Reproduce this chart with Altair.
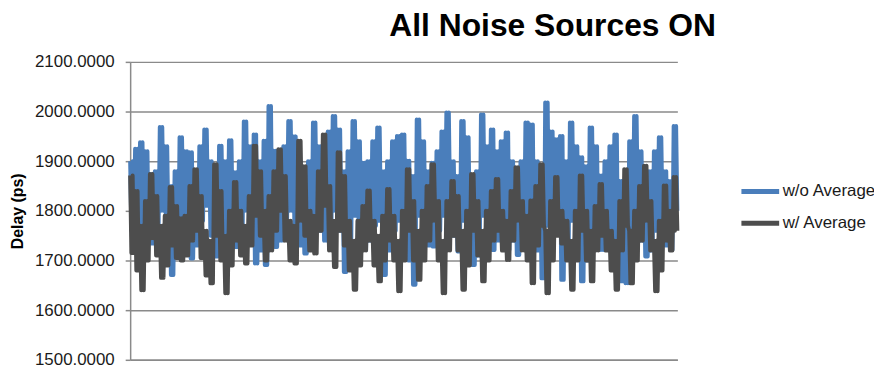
import altair as alt
import pandas as pd

TITLE = "All Noise Sources ON"
Y_TITLE = "Delay (ps)"
SERIES = ["w/o Average", "w/ Average"]
Y_TICKS = [1500, 1600, 1700, 1800, 1900, 2000, 2100]

# Each column of the trace (left to right, ~5 px wide) gives the upper and the
# lower edge of the fast oscillation; the trace swings between them twice per column
blue_hi = [1900, 1925, 1938, 1920, 1874, 1880, 1969, 1930, 1850, 1880,
           1948, 1920, 1918, 1880, 1930, 1964, 1900, 1874, 1931, 1900,
           1942, 1878, 1900, 1980, 1930, 1954, 1900, 1941, 2011, 1921,
           1900, 1930, 1981, 1950, 1900, 1840, 1900, 1978, 1930, 1908,
           1960, 1991, 1964, 1880, 1920, 1981, 1940, 1897, 1900, 1940,
           1968, 1880, 1900, 1940, 1951, 1954, 1901, 1870, 1984, 1940,
           1880, 1897, 1920, 1960, 1998, 1900, 1870, 1981, 1948, 1850,
           1880, 1994, 1930, 1964, 1920, 1940, 1958, 1900, 1868, 1900,
           1978, 1974, 1900, 1854, 2018, 1960, 1944, 1951, 1900, 1978,
           1930, 1908, 1890, 1968, 1930, 1871, 1900, 1930, 1954, 1860,
           1850, 1940, 1991, 1920, 1860, 1880, 1920, 1948, 1880, 1860,
           1971]
blue_lo = [1760, 1770, 1750, 1740, 1734, 1760, 1800, 1760, 1671, 1720,
           1790, 1760, 1704, 1730, 1780, 1810, 1750, 1708, 1770, 1750,
           1780, 1727, 1740, 1800, 1760, 1694, 1720, 1691, 1760, 1727,
           1740, 1770, 1800, 1760, 1730, 1714, 1740, 1790, 1760, 1740,
           1780, 1800, 1760, 1677, 1740, 1790, 1760, 1721, 1740, 1770,
           1780, 1671, 1720, 1760, 1780, 1760, 1700, 1651, 1790, 1750,
           1730, 1728, 1760, 1790, 1810, 1750, 1718, 1780, 1740, 1691,
           1710, 1790, 1760, 1721, 1740, 1760, 1721, 1740, 1711, 1740,
           1790, 1714, 1720, 1664, 1770, 1790, 1760, 1661, 1720, 1780,
           1740, 1658, 1700, 1760, 1721, 1721, 1740, 1760, 1700, 1658,
           1654, 1760, 1800, 1740, 1708, 1720, 1760, 1780, 1730, 1721,
           1800]
grey_hi = [1871, 1840, 1770, 1820, 1874, 1830, 1770, 1790, 1848, 1810,
           1785, 1790, 1850, 1884, 1830, 1760, 1740, 1894, 1840, 1750,
           1800, 1858, 1800, 1770, 1830, 1931, 1880, 1800, 1830, 1880,
           1924, 1870, 1780, 1770, 1941, 1890, 1800, 1790, 1880, 1954,
           1850, 1780, 1918, 1870, 1780, 1740, 1780, 1810, 1841, 1780,
           1750, 1790, 1844, 1790, 1740, 1800, 1884, 1820, 1760, 1800,
           1850, 1894, 1820, 1740, 1820, 1860, 1830, 1760, 1800, 1874,
           1820, 1760, 1800, 1840, 1864, 1800, 1780, 1840, 1888, 1820,
           1790, 1821, 1850, 1894, 1760, 1820, 1868, 1800, 1780, 1740,
           1800, 1871, 1800, 1760, 1810, 1854, 1800, 1760, 1740, 1820,
           1884, 1760, 1800, 1850, 1891, 1820, 1740, 1780, 1851, 1800,
           1868]
grey_lo = [1715, 1680, 1640, 1700, 1745, 1710, 1665, 1690, 1730, 1705,
           1700, 1710, 1740, 1760, 1705, 1670, 1654, 1750, 1700, 1634,
           1690, 1740, 1710, 1694, 1730, 1790, 1750, 1700, 1720, 1760,
           1800, 1740, 1700, 1694, 1780, 1750, 1720, 1714, 1760, 1810,
           1720, 1687, 1760, 1730, 1680, 1641, 1690, 1720, 1740, 1690,
           1658, 1700, 1740, 1700, 1638, 1700, 1760, 1700, 1661, 1700,
           1740, 1780, 1700, 1634, 1720, 1750, 1720, 1641, 1690, 1760,
           1710, 1658, 1700, 1740, 1760, 1720, 1701, 1740, 1780, 1720,
           1700, 1654, 1730, 1770, 1634, 1700, 1750, 1734, 1700, 1641,
           1700, 1760, 1700, 1658, 1720, 1750, 1720, 1680, 1641, 1720,
           1770, 1654, 1700, 1740, 1780, 1720, 1638, 1680, 1740, 1720,
           1760]

SWINGS = 2  # up/down swings drawn inside each column


def trace(hi, lo, name):
    rows = []
    k = 0
    for h, l in zip(hi, lo):
        for _ in range(SWINGS):
            rows.append({"idx": k, "delay": h, "series": name})
            rows.append({"idx": k + 1, "delay": l, "series": name})
            k += 2
    return pd.DataFrame(rows)


df_blue = trace(blue_hi, blue_lo, SERIES[0])
df_grey = trace(grey_hi, grey_lo, SERIES[1])
n_max = 2 * SWINGS * len(blue_hi) - 1

FONT = "Liberation Sans"

color = alt.Color(
    "series:N",
    scale=alt.Scale(domain=SERIES, range=["#4A7EBB", "#4D4D4D"]),
    legend=alt.Legend(
        title=None, orient="none", legendX=613, legendY=109,
        symbolType="stroke", symbolSize=1444, symbolStrokeWidth=5,
        labelFontSize=17, labelFont=FONT, labelColor="#1a1a1a",
        labelOffset=1, rowPadding=-13, padding=0, symbolOffset=0,
    ),
)
x = alt.X(
    "idx:Q",
    scale=alt.Scale(domain=[0, n_max], nice=False, zero=False),
    axis=alt.Axis(labels=False, ticks=False, grid=False, title=None,
                  domainColor="#8a8a8a", domainWidth=1.5),
)
y = alt.Y(
    "delay:Q",
    scale=alt.Scale(domain=[1500, 2100], nice=False, zero=False),
    axis=alt.Axis(
        values=Y_TICKS, format=".4f", title=Y_TITLE,
        labelFont=FONT, labelFontSize=17, labelColor="#1a1a1a", labelPadding=11,
        tickSize=5, tickColor="#8a8a8a", tickWidth=1.5,
        domainColor="#8a8a8a", domainWidth=1.5,
        gridColor="#8a8a8a", gridWidth=1.5,
        titleFont=FONT, titleFontSize=16, titleFontWeight="bold", titleColor="#000",
        titleX=-113, titleY=150, titleAlign="center", titleBaseline="middle",
    ),
)

blue = alt.Chart(df_blue).mark_line(strokeWidth=4, strokeJoin="round").encode(x=x, y=y, color=color)
grey = alt.Chart(df_grey).mark_line(strokeWidth=4, strokeJoin="round").encode(x=x, y=y, color=color)

chart = alt.layer(blue, grey).properties(
    width=551, height=300,
    autosize=alt.AutoSizeParams(type="none"),
    padding={"left": 123, "top": 53, "right": 198, "bottom": 8},
    title=alt.TitleParams(TITLE, font=FONT, fontSize=32, fontWeight="bold", color="#000",
                          anchor="start", frame="group", dx=261, offset=10),
).configure_view(stroke=None)

chart.save("out.html", embed_options={"renderer": "svg", "actions": False})
